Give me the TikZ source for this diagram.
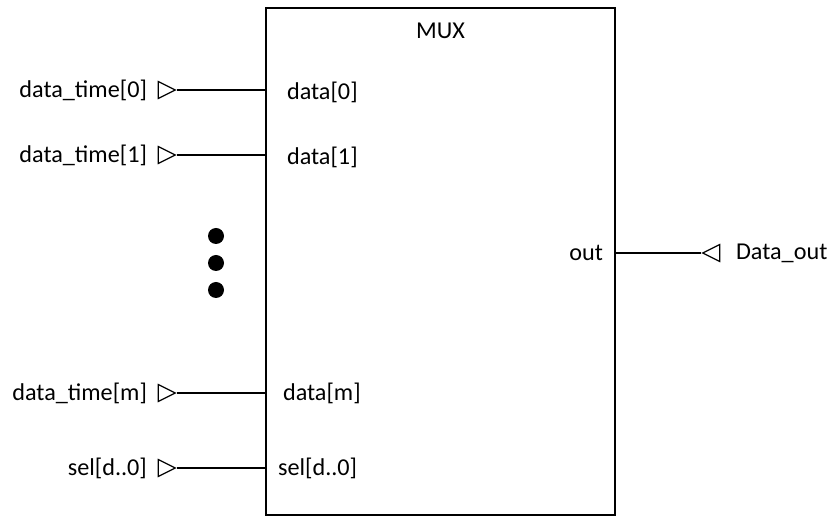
\documentclass[tikz,border=0pt]{standalone}
\usepackage{fontspec}
\setmainfont{Carlito}
\usetikzlibrary{shapes.geometric, positioning}

\begin{document}
\begin{tikzpicture}[x=0.5pt, y=-0.5pt,
        every node/.style={font=\fontsize{12.1}{14}\selectfont},
        block/.style={rectangle, draw=black, line width=1pt, minimum width=174.5pt, minimum height=253.5pt, inner sep=0pt},
        inport/.style={isosceles triangle, isosceles triangle stretches, draw, line width=0.6pt, minimum width=8.5pt, minimum height=8.5pt, inner sep=0pt},
        outport/.style={inport, shape border rotate=180},
        wire/.style={line width=0.75pt},
        dot/.style={circle, fill=black, minimum size=8pt, inner sep=0pt}]

        \useasboundingbox (0,0) rectangle (829,517);

        % the multiplexer block
        \node[block] (mux) at (440.5,261.5) {};
        \node (title) at (440.5,31) {MUX};

        % inputs
        \node[inport] (p0) at (163.5,90) {};
        \node[inport] (p1) at (163.5,155) {};
        \node[inport] (pm) at (163.5,393) {};
        \node[inport] (ps) at (163.5,468) {};

        \node[anchor=east] (n0) at (154,90) {data\_time[0]};
        \node[anchor=east] (n1) at (154,155) {data\_time[1]};
        \node[anchor=east] (nm) at (154,393) {data\_time[m]};
        \node[anchor=east] (ns) at (154,468) {sel[d..0]};

        \node[anchor=west] (d0) at (280,92) {data[0]};
        \node[anchor=west] (d1) at (280,157) {data[1]};
        \node[anchor=west] (dm) at (276,393) {data[m]};
        \node[anchor=west] (ds) at (271,468) {sel[d..0]};

        % more inputs
        \node[dot] (dotA) at (216,236) {};
        \node[dot] (dotB) at (216,263) {};
        \node[dot] (dotC) at (216,290) {};

        % output
        \node[anchor=east] (o) at (610,253) {out};
        \node[outport] (po) at (714.5,253) {};
        \node[anchor=west] (no) at (729,253) {Data\_out};

        \draw[wire] (p0.apex) -- (p0.apex -| mux.west);
        \draw[wire] (p1.apex) -- (p1.apex -| mux.west);
        \draw[wire] (pm.apex) -- (pm.apex -| mux.west);
        \draw[wire] (ps.apex) -- (ps.apex -| mux.west);
        \draw[wire] (po.apex) -- (po.apex -| mux.east);
\end{tikzpicture}
\end{document}
